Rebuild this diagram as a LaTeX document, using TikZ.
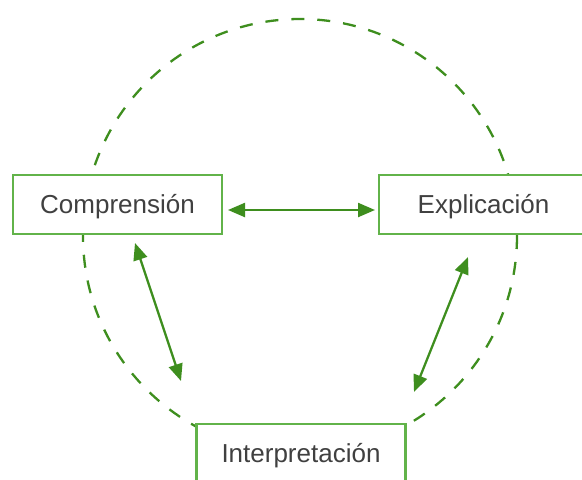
\documentclass[tikz,border=0pt]{standalone}
\usepackage{fontspec}
\setmainfont{Liberation Sans}
\usetikzlibrary{arrows.meta}
\definecolor{boxgreen}{HTML}{62B34A}
\definecolor{arrowgreen}{HTML}{3E8E1E}
\definecolor{txtgray}{HTML}{404040}
\tikzset{
  conceptbox/.style={draw=boxgreen, line width=2.2pt, fill=white, minimum width=209pt, minimum height=59pt, inner sep=0pt, text height=18.6pt, text depth=0pt, text=txtgray, font=\fontsize{26}{30}\selectfont},
  linkarrow/.style={draw=arrowgreen, line width=2.3pt, {Triangle[length=17pt,width=14pt]}-{Triangle[length=17pt,width=14pt]}},
  cycle/.style={draw=arrowgreen, line width=2.3pt, dash pattern=on 13pt off 13pt}
}
\begin{document}
\begin{tikzpicture}[x=1pt,y=-1pt]
\useasboundingbox (0,0) rectangle (582,480);
\clip (0,0) rectangle (582,480);
\fill[white] (0,0) rectangle (582,480);
\coordinate (center) at (300,236);
\draw[cycle] (center) circle[radius=217];
\node[conceptbox] (comp) at (117.5,204.5) {Comprensión};
\node[conceptbox] (expl) at (483.5,204.5) {Explicación};
\node[conceptbox] (interp) at (301,453.5) {Interpretación};
\coordinate (ce) at (228,210);
\coordinate (ec) at (375,210);
\coordinate (ci) at (135,243);
\coordinate (ic) at (181,381);
\coordinate (ei) at (468,257);
\coordinate (ie) at (414,392);
\draw[linkarrow] (ce) -- (ec);
\draw[linkarrow] (ci) -- (ic);
\draw[linkarrow] (ei) -- (ie);
\end{tikzpicture}
\end{document}
